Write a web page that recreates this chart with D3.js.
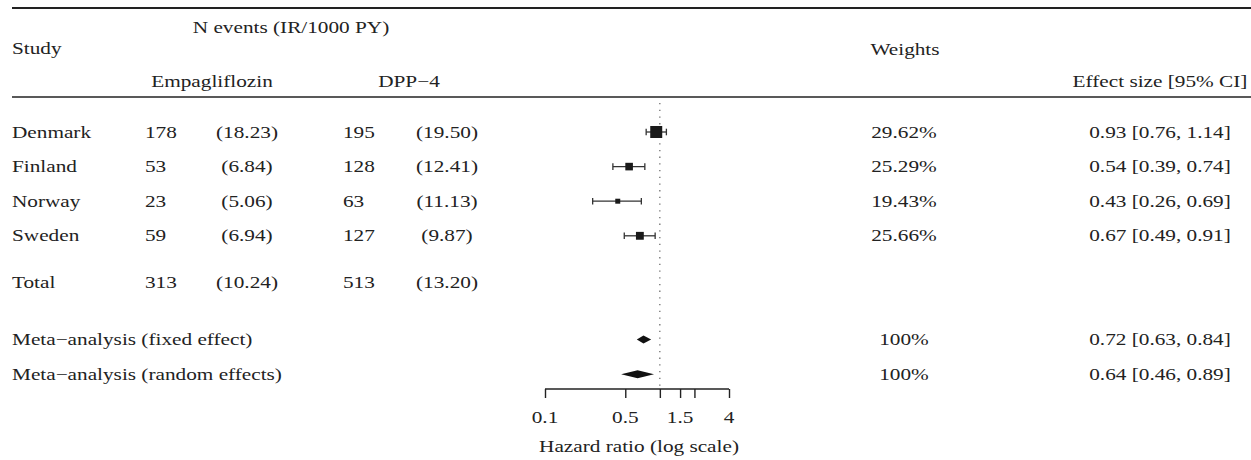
<!DOCTYPE html>
<html>
<head>
<meta charset="utf-8">
<script src="https://cdn.jsdelivr.net/npm/d3@7"></script>
<style>
  html, body { margin: 0; padding: 0; background: #fff; }
  svg { display: block; }
  text { font-family: "Liberation Serif", "Times New Roman", serif; fill: #222; }
</style>
</head>
<body>
<svg id="chart" width="1251" height="460"></svg>
<script>
// ---------- data ----------
const studies = ["Denmark", "Finland", "Norway", "Sweden"];
const empaN = [178, 53, 23, 59];
const empaIR = ["18.23", "6.84", "5.06", "6.94"];
const dppN = [195, 128, 63, 127];
const dppIR = ["19.50", "12.41", "11.13", "9.87"];
const studyWeights = ["29.62%", "25.29%", "19.43%", "25.66%"];
const studyHR = [0.93, 0.54, 0.43, 0.67];
const studyLo = [0.76, 0.39, 0.26, 0.49];
const studyHi = [1.14, 0.74, 0.69, 0.91];

const totalLabel = "Total";
const totalEmpaN = 313, totalEmpaIR = "10.24";
const totalDppN = 513, totalDppIR = "13.20";

const metaLabels = ["Meta\u2212analysis (fixed effect)", "Meta\u2212analysis (random effects)"];
const metaWeights = ["100%", "100%"];
const metaHR = [0.72, 0.64];
const metaLo = [0.63, 0.46];
const metaHi = [0.84, 0.89];

const tickValues = [0.1, 0.5, 1, 1.5, 2, 4];
const tickLabels = ["0.1", "0.5", "", "1.5", "", "4"];
const axisTitle = "Hazard ratio (log scale)";

// ---------- layout ----------
const svg = d3.select("#chart");
const FS = 17, SX = 1.25;           // font size, horizontal glyph stretch
const ink = "#222";

const x = d3.scaleLog().domain([0.1, 4]).range([545, 729]);
// row slots -> vertical centre
const y = d3.scaleLinear().domain([0, 1]).range([132, 166.6]);
const studySlots = [0, 1, 2, 3];
const totalSlot = 4.35;
const metaSlots = [6, 7];
const baseOff = 5.5;

const col = { study: 12, n1: 145, ir1: 247, n2: 343, ir2: 447, w: 904, es: 1160 };

function txt(g, s, tx, ty, anchor) {
  return g.append("text")
    .attr("transform", `translate(${tx},${ty}) scale(${SX},1)`)
    .attr("text-anchor", anchor || "start")
    .attr("font-size", FS)
    .text(s);
}
const fmt = d3.format(".2f");
const esText = (h, l, u) => `${fmt(h)} [${fmt(l)}, ${fmt(u)}]`;

// ---------- rules ----------
svg.append("line").attr("x1", 12).attr("x2", 1251).attr("y1", 8).attr("y2", 8)
  .attr("stroke", ink).attr("stroke-width", 1.8);
svg.append("line").attr("x1", 12).attr("x2", 1251).attr("y1", 97).attr("y2", 97)
  .attr("stroke", ink).attr("stroke-width", 1.6);

// ---------- headers ----------
const hg = svg.append("g");
txt(hg, "N events (IR/1000 PY)", 291, 33, "middle");
txt(hg, "Study", col.study, 54, "start");
txt(hg, "Empagliflozin", 212, 86.5, "middle");
txt(hg, "DPP\u22124", 409, 86.5, "middle");
txt(hg, "Weights", 905, 55, "middle");
txt(hg, "Effect size [95% CI]", col.es, 86.5, "middle");

// ---------- reference line ----------
svg.append("line")
  .attr("x1", x(1)).attr("x2", x(1))
  .attr("y1", 103).attr("y2", 389)
  .attr("stroke", "#555").attr("stroke-width", 1.1)
  .attr("stroke-dasharray", "1.3,5.4");

// ---------- study rows ----------
const rg = svg.append("g");
studies.forEach((s, i) => {
  const cy = y(studySlots[i]);
  const by = cy + baseOff;
  txt(rg, s, col.study, by, "start");
  txt(rg, String(empaN[i]), col.n1, by, "start");
  txt(rg, `(${empaIR[i]})`, col.ir1, by, "middle");
  txt(rg, String(dppN[i]), col.n2, by, "start");
  txt(rg, `(${dppIR[i]})`, col.ir2, by, "middle");
  txt(rg, studyWeights[i], col.w, by, "middle");
  txt(rg, esText(studyHR[i], studyLo[i], studyHi[i]), col.es, by, "middle");

  // CI
  const x0 = x(studyLo[i]), x1 = x(studyHi[i]);
  rg.append("line").attr("x1", x0).attr("x2", x1).attr("y1", cy).attr("y2", cy)
    .attr("stroke", "#333").attr("stroke-width", 1.3);
  [x0, x1].forEach(xx => rg.append("line").attr("x1", xx).attr("x2", xx)
    .attr("y1", cy - 3.3).attr("y2", cy + 3.3).attr("stroke", "#333").attr("stroke-width", 1.3));
  // box sized by precision
  const se = Math.log(studyHi[i] / studyLo[i]) / 3.92;
  const sz = 1.24 / se;
  rg.append("rect").attr("x", x(studyHR[i]) - sz / 2).attr("y", cy - sz / 2)
    .attr("width", sz).attr("height", sz).attr("fill", "#1a1a1a");
});

// ---------- total row ----------
{
  const by = y(totalSlot) + baseOff;
  txt(rg, totalLabel, col.study, by, "start");
  txt(rg, String(totalEmpaN), col.n1, by, "start");
  txt(rg, `(${totalEmpaIR})`, col.ir1, by, "middle");
  txt(rg, String(totalDppN), col.n2, by, "start");
  txt(rg, `(${totalDppIR})`, col.ir2, by, "middle");
}

// ---------- meta rows ----------
metaLabels.forEach((s, i) => {
  const cy = y(metaSlots[i]);
  const by = cy + baseOff;
  txt(rg, s, col.study, by, "start");
  txt(rg, metaWeights[i], col.w, by, "middle");
  txt(rg, esText(metaHR[i], metaLo[i], metaHi[i]), col.es, by, "middle");
  const h = 4;
  const pts = [[x(metaLo[i]), cy], [x(metaHR[i]), cy - h], [x(metaHi[i]), cy], [x(metaHR[i]), cy + h]];
  rg.append("polygon").attr("points", pts.map(p => p.join(",")).join(" ")).attr("fill", "#111");
});

// ---------- axis ----------
const ag = svg.append("g").attr("transform", "translate(0,389)");
const axis = d3.axisBottom(x).tickValues(tickValues).tickSize(9).tickFormat(() => "");
ag.call(axis);
ag.select(".domain").attr("d", `M${x(0.1)},0H${x(4)}`).attr("stroke", ink).attr("stroke-width", 1.4);
ag.selectAll(".tick line").attr("stroke", ink).attr("stroke-width", 1.4);
ag.selectAll(".tick text").remove();
tickValues.forEach((v, i) => {
  if (tickLabels[i]) txt(svg, tickLabels[i], x(v), 422.5, "middle");
});
txt(svg, axisTitle, (x(0.1) + x(4)) / 2 + 2, 452, "middle");
</script>
</body>
</html>
